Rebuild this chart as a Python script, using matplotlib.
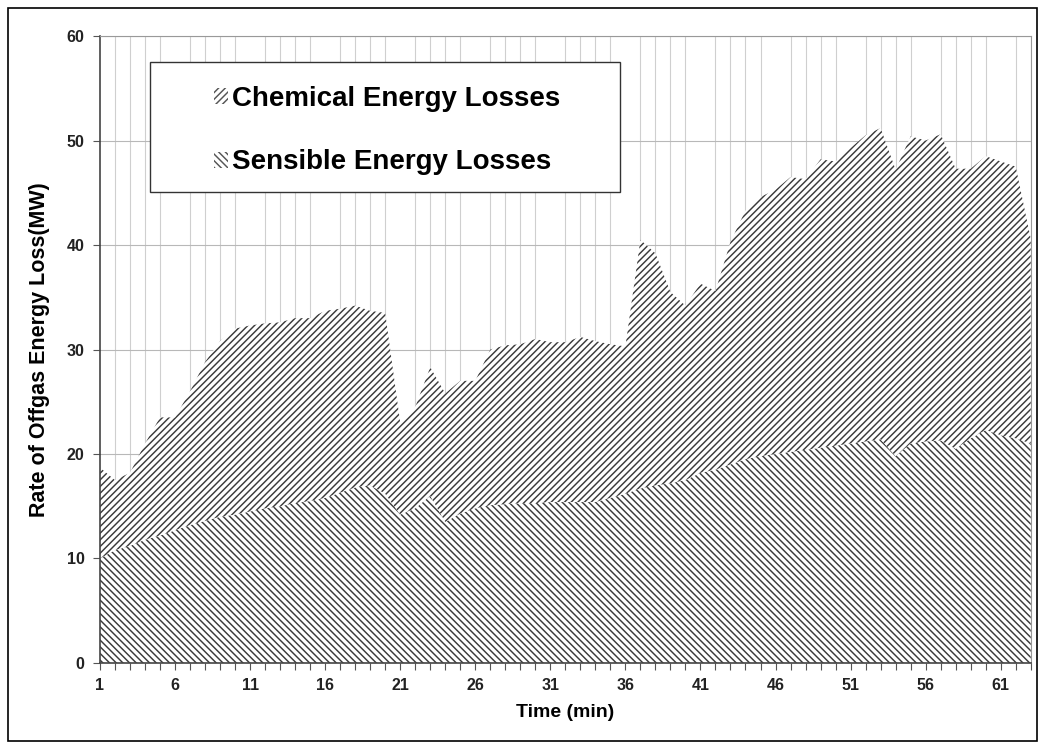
import numpy as np
import matplotlib.pyplot as plt
from matplotlib.patches import Patch, Rectangle

plt.rcParams['font.family'] = ['Liberation Sans', 'DejaVu Sans']
plt.rcParams['hatch.linewidth'] = 1.05

# time in minutes, one point per minute
minutes = list(range(1, 64))

# sensible energy losses (MW), bottom layer
sensible = [10.0, 10.8, 11.2, 11.8, 12.2, 12.7, 13.2, 13.6, 14.0, 14.2,
            14.5, 14.8, 15.0, 15.3, 15.5, 15.8, 16.3, 16.8, 17.0, 16.2,
            14.2, 14.8, 16.0, 13.5, 14.3, 14.8, 15.1, 15.2, 15.3, 15.3,
            15.4, 15.4, 15.4, 15.4, 15.8, 16.2, 16.7, 17.0, 17.2, 17.5,
            18.2, 18.5, 19.0, 19.5, 19.8, 20.0, 20.2, 20.4, 20.6, 20.8,
            21.0, 21.2, 21.4, 19.8, 21.0, 21.2, 21.3, 20.5, 21.5, 22.3,
            21.8, 21.5, 21.0]

# chemical energy losses (MW), stacked on top
chemical = [8.7, 6.7, 7.0, 9.2, 11.3, 10.8, 12.8, 15.2, 16.8, 17.8,
            17.8, 17.7, 17.6, 17.7, 17.5, 17.9, 17.6, 17.4, 16.7, 17.3,
            8.8, 9.7, 12.3, 12.3, 12.7, 12.2, 14.9, 15.2, 15.2, 15.7,
            15.3, 15.3, 15.8, 15.4, 14.7, 14.1, 23.8, 22.2, 18.3, 16.7,
            18.1, 17.1, 21.3, 23.8, 24.8, 25.3, 26.3, 25.9, 27.6, 27.2,
            28.3, 29.3, 29.8, 27.4, 29.4, 28.8, 29.3, 26.8, 25.8, 26.2,
            26.2, 26.0, 19.6]

labels = ["Chemical Energy Losses", "Sensible Energy Losses"]
xticks = list(range(1, 64, 5))

x = np.array(minutes)
s = np.array(sensible)
c = np.array(chemical)

fig = plt.figure(figsize=(10.38, 7.46), dpi=100)
ax = fig.add_axes([0.0963, 0.1113, 0.8967, 0.8404])

# outer frame of the picture
fig.patches.append(Rectangle((8/1038, 5/746), 1 - 9/1038, 1 - 13/746,
                             transform=fig.transFigure, fill=False,
                             edgecolor='black', linewidth=1.2))

hcol = '#3a3a3a'
ax.fill_between(x, 0, s, facecolor='white', edgecolor=hcol, hatch='\\' * 5,
                linewidth=0, zorder=2)
ax.fill_between(x, s, s + c, facecolor='white', edgecolor=hcol, hatch='/' * 5,
                linewidth=0, zorder=2)

ax.set_xlim(1, 63)
ax.set_ylim(0, 60)
ax.set_xticks(minutes, minor=True)
ax.set_xticks(xticks)
ax.set_yticks(range(0, 61, 10))
ax.grid(True, axis='x', which='minor', color='#cfcfcf', linewidth=0.8, zorder=0)
ax.grid(True, axis='y', which='major', color='#b8b8b8', linewidth=0.8, zorder=0)
ax.set_axisbelow(True)

ax.tick_params(axis='x', which='both', direction='out', length=5,
               color='#555555', width=0.8, pad=6)
ax.tick_params(axis='y', direction='out', length=5, color='#555555', width=0.8,
               pad=6)
for lab in ax.get_xticklabels() + ax.get_yticklabels():
    lab.set_fontweight('bold')
    lab.set_fontsize(11.5)
    lab.set_color('#222222')

for sp in ['left', 'bottom']:
    ax.spines[sp].set_color('#444444')
    ax.spines[sp].set_linewidth(1.2)
for sp in ['top', 'right']:
    ax.spines[sp].set_color('#999999')
    ax.spines[sp].set_linewidth(0.8)

ax.set_xlabel("Time (min)", fontsize=14, fontweight='bold', labelpad=8)
ax.set_ylabel("Rate of Offgas Energy Loss(MW)", fontsize=15.5, fontweight='bold',
              labelpad=12)

# legend box
ax.add_patch(Rectangle((0.054, 0.751), 0.505, 0.207, transform=ax.transAxes,
                       facecolor='white', edgecolor='#333333', linewidth=1.0,
                       zorder=4))
handles = [Patch(facecolor='white', edgecolor='#555555', hatch='/' * 5, linewidth=0),
           Patch(facecolor='white', edgecolor='#555555', hatch='\\' * 5, linewidth=0)]
leg = ax.legend(handles, labels, loc='center left', bbox_to_anchor=(0.108, 0.849),
                frameon=False, borderpad=0, handlelength=0.5, handleheight=0.5,
                handletextpad=0.15, labelspacing=1.35,
                prop={'size': 20, 'weight': 'bold'})
leg.set_zorder(5)

fig.savefig('out.png', dpi=100)
